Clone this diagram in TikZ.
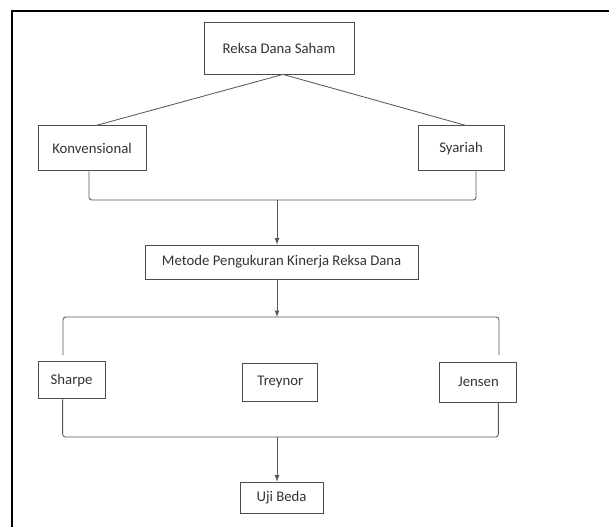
\documentclass[tikz,border=0pt]{standalone}
\usepackage{fontspec}
\setmainfont{Carlito}

\begin{document}
\begin{tikzpicture}[font=\fontsize{10.5}{12.5}\selectfont]
    \tikzset{ coord/.style={coordinate},
              kotak/.style={draw=black!70, line width=0.6pt, text=black!80, inner sep=0pt},
              garis/.style={draw=black!65, line width=0.6pt},
              panah/.style={garis, -latex} }
    \useasboundingbox (0,0) rectangle (15.225,-13.175);
    \draw[line width=1.4pt] (0.3,-13.175) -- (0.3,-0.275) -- (15.225,-0.275);

    \node[kotak, minimum width=3.75cm, minimum height=1.3cm] (saham) at (6.975,-1.2) {Reksa Dana Saham};
    \node[kotak, minimum width=2.7cm, minimum height=1.125cm] (konv) at (2.3,-3.71) {Konvensional};
    \node[kotak, minimum width=2.15cm, minimum height=1.125cm] (syariah) at (11.525,-3.71) {Syariah};
    \node[kotak, minimum width=6.825cm, minimum height=0.85cm] (metode) at (7.04,-6.55) {Metode Pengukuran Kinerja Reksa Dana};
    \node[kotak, minimum width=1.675cm, minimum height=0.925cm] (sharpe) at (1.79,-9.51) {Sharpe};
    \node[kotak, minimum width=1.875cm, minimum height=0.95cm] (treynor) at (7.01,-9.55) {Treynor};
    \node[kotak, minimum width=1.925cm, minimum height=1.0cm] (jensen) at (11.96,-9.55) {Jensen};
    \node[kotak, minimum width=2.075cm, minimum height=0.775cm] (uji) at (7.04,-12.44) {Uji Beda};

    \node[coord] (gab1) at (6.925,-5.0) {};
    \node[coord] (cab) at (6.925,-7.925) {};
    \node[coord] (cabkiri) at (1.575,-8.875) {};
    \node[coord] (cabkanan) at (12.475,-8.875) {};
    \node[coord] (gab2) at (6.925,-10.925) {};

    \draw[garis] ([xshift=0.1cm]saham.south) -- ([xshift=0.1cm]konv.north);
    \draw[garis] ([xshift=0.1cm]saham.south) -- ([xshift=0.125cm]syariah.north);

    \draw[garis, rounded corners=2pt] ([xshift=-0.075cm]konv.south) |- (gab1) -| ([xshift=0.375cm]syariah.south);
    \draw[panah] (gab1) -- (gab1 |- metode.north);
    \draw[panah] (cab |- metode.south) -- (cab);
    \draw[garis, rounded corners=2pt] (cabkiri) |- (cab) -| (cabkanan);

    \draw[garis, rounded corners=2pt] ([xshift=-0.225cm]sharpe.south) |- (gab2) -| ([xshift=0.5cm]jensen.south);
    \draw[panah] (gab2) -- (gab2 |- uji.north);
\end{tikzpicture}
\end{document}
